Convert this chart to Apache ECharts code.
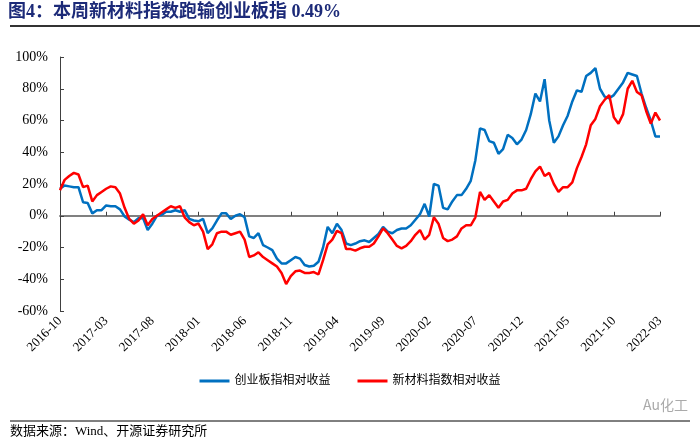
<!DOCTYPE html>
<html>
<head>
<meta charset="utf-8">
<script src="https://cdn.jsdelivr.net/npm/echarts@6/dist/echarts.min.js"></script>
<style>
html,body{margin:0;padding:0;background:#fff;}
#chart{width:700px;height:442px;}
</style>
</head>
<body>
<div id="chart"></div>
<script>
// Half-month sample points from 2016-10 to 2022-03 (131 points)
const startYear = 2016, startMonth = 10, nPoints = 131;
const categories = [];
for (let k = 0; k < nPoints; k++) {
  const mi = startMonth - 1 + Math.floor(k / 2);
  const yy = startYear + Math.floor(mi / 12);
  const mm = String(mi % 12 + 1).padStart(2, '0');
  categories.push(k % 2 === 0 ? `${yy}-${mm}` : `${yy}-${mm}-16`);
}

const chinextRel = [
  17, 19, 18.5, 18, 18, 8.5, 8, 1.5, 3.5, 3.5,
  6.5, 6, 6, 4, -0.5, -2.5, -4, -1.5, -1.5, -9,
  -5, 0, 0.5, 2.5, 2.5, 3.5, 2.5, 3.5, -2, -3,
  -3.5, -2, -11, -8, -3, 1.5, 1.5, -2, 0, 1,
  -1, -13, -14, -11, -18.5, -20, -21.7, -27, -30, -30,
  -28, -26, -27, -31, -32, -31.5, -29, -20, -7, -11,
  -5, -9, -17.5, -18.5, -17.5, -16, -15.5, -16.5, -14, -11.5,
  -7, -10, -11, -9, -8, -8, -6, -2.5, 1, 7.5,
  -0.5, 20, 19, 5, 4, 9, 13, 13, 17, 22,
  35, 55, 54, 47, 46, 39, 42, 51, 49, 45,
  48, 54, 64, 77, 72, 86, 60, 46, 50, 57,
  63, 72, 79, 78, 88, 90, 93, 80, 75, 74,
  76, 80, 84, 90, 89, 88, 77, 68, 60, 50,
  50
];

const newMaterialRel = [
  16, 22.6, 25, 27, 26, 18, 19, 9, 13, 15,
  17, 18.5, 18, 14, 5, -2, -5, -3, 1, -6,
  -2, 0, 2, 4, 6, 5, 6, -1, -4, -6,
  -5, -10, -21, -18, -11, -10, -10, -12, -11, -10,
  -15, -26, -25, -23, -26, -28, -30, -32, -36, -43,
  -38, -35, -34.5, -36, -36, -35.5, -37, -28, -18, -15,
  -9.5, -11, -21, -21, -22, -20.5, -19.5, -19.5, -17.5, -13,
  -8, -11, -15, -19, -20.5, -19, -16, -12, -9, -15,
  -12, -1, -5, -14, -16, -15, -13, -8, -6, -6,
  -1, 15, 10, 13, 9, 5, 9, 10, 14, 16,
  16, 17, 23, 28, 31, 25, 27, 20, 15, 18,
  18, 21, 30, 37, 45, 57, 61, 69, 73, 76,
  62, 58, 64, 80, 85, 78, 76, 66, 58, 65,
  60
];

const seriesNames = ['创业板指相对收益', '新材料指数相对收益'];
const seriesColors = ['#0070C0', '#FF0000'];
const titleText = '图4：本周新材料指数跑输创业板指 0.49%';
const sourceText = '数据来源：Wind、开源证券研究所';

const chart = echarts.init(document.getElementById('chart'), null, {renderer: 'canvas'});
const serif = '"Liberation Serif", "Times New Roman", "Noto Sans CJK SC", serif';

chart.setOption({
  animation: false,
  backgroundColor: '#fff',
  grid: {left: 60, right: 40, top: 57, bottom: 131, containLabel: false},
  legend: {
    bottom: 50,
    left: 'center',
    itemWidth: 30,
    itemHeight: 3,
    itemGap: 27,
    icon: 'rect',
    textStyle: {fontSize: 12, color: '#000', fontFamily: serif},
    data: seriesNames
  },
  xAxis: [
    {
      type: 'category',
      data: categories,
      boundaryGap: false,
      axisLine: {onZero: true, lineStyle: {color: '#808080', width: 2}},
      axisTick: {show: true, inside: true, length: 4, interval: 9, lineStyle: {color: '#404040', width: 1}},
      axisLabel: {show: false}
    },
    {
      type: 'category',
      data: categories,
      boundaryGap: false,
      position: 'bottom',
      axisLine: {show: false, onZero: false},
      axisTick: {show: false},
      axisLabel: {
        show: true,
        interval: 9,
        rotate: 45,
        margin: 8,
        fontSize: 13,
        color: '#000',
        fontFamily: serif,
        formatter: v => v.slice(0, 7)
      }
    }
  ],
  yAxis: {
    type: 'value',
    min: -60,
    max: 100,
    interval: 20,
    axisLine: {show: true, lineStyle: {color: '#404040', width: 1}},
    axisTick: {show: true, inside: true, length: 4, lineStyle: {color: '#404040'}},
    splitLine: {show: false},
    axisLabel: {formatter: '{value}%', fontSize: 14, color: '#000', fontFamily: serif, margin: 12}
  },
  series: [
    {
      name: seriesNames[0], type: 'line', data: chinextRel, xAxisIndex: 0,
      symbol: 'none', lineStyle: {color: seriesColors[0], width: 2.5}, itemStyle: {color: seriesColors[0]}, z: 3
    },
    {
      name: seriesNames[1], type: 'line', data: newMaterialRel, xAxisIndex: 0,
      symbol: 'none', lineStyle: {color: seriesColors[1], width: 2.5}, itemStyle: {color: seriesColors[1]}, z: 4
    }
  ],
  graphic: [
    {type: 'text', left: 8, top: 3, style: {text: titleText, fontSize: 18, fontWeight: 'bold', fill: '#1c2a78', fontFamily: serif}},
    {type: 'line', shape: {x1: 10, y1: 26, x2: 700, y2: 26}, style: {stroke: '#333', lineWidth: 2}},
    {type: 'text', right: 12, top: 398, style: {text: 'Au化工', fontSize: 14, fill: '#aaa', fontFamily: '"Noto Sans CJK SC", sans-serif'}},
    {type: 'line', shape: {x1: 10, y1: 421, x2: 690, y2: 421}, style: {stroke: '#000', lineWidth: 1}},
    {type: 'text', left: 10, top: 425, style: {text: sourceText, fontSize: 13, fill: '#000', fontFamily: serif}}
  ]
});
</script>
</body>
</html>
